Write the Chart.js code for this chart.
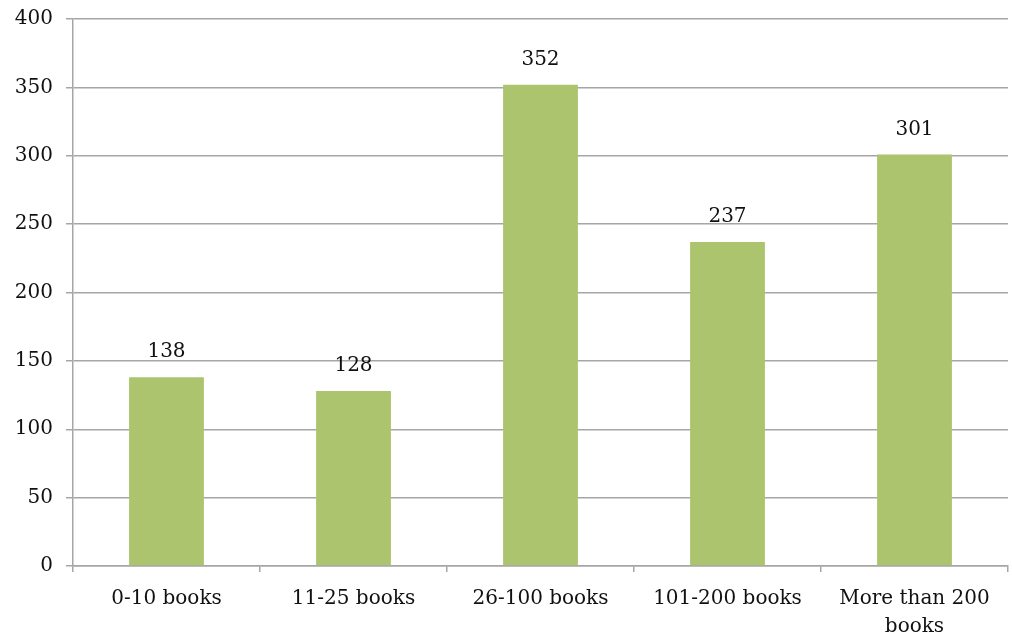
<!DOCTYPE html>
<html><head><meta charset="utf-8">
<script src="https://cdn.jsdelivr.net/npm/chart.js@4/dist/chart.umd.min.js"></script>
<style>html,body{margin:0;padding:0;background:#fff}#wrap{width:1012px;height:641px}</style>
</head><body><div id="wrap"><canvas id="c" width="1012" height="641"></canvas></div>
<script>
const categories = ["0-10 books", "11-25 books", "26-100 books", "101-200 books", ["More than 200", "books"]];
const values = [138, 128, 352, 237, 301];
const yTicks = [0, 50, 100, 150, 200, 250, 300, 350, 400];
const FONT = "'DejaVu Serif', serif";

const labelPlugin = {
  id: 'vlabels',
  afterDatasetsDraw(chart) {
    const ctx = chart.ctx;
    const meta = chart.getDatasetMeta(0);
    ctx.save();
    ctx.font = "20px " + FONT;
    ctx.fillStyle = "#111";
    ctx.textAlign = "center";
    ctx.textBaseline = "bottom";
    meta.data.forEach((bar, i) => {
      ctx.fillText(String(values[i]), bar.x, bar.y - 15);
    });
    ctx.restore();
  }
};

new Chart(document.getElementById('c'), {
  type: 'bar',
  data: { labels: categories, datasets: [{ data: values, backgroundColor: '#abc46d', borderWidth: 0, categoryPercentage: 1, barPercentage: 0.4 }] },
  options: {
    responsive: false, animation: false,
    layout: { padding: { top: 19, right: 4, left: 0, bottom: 0 } },
    plugins: { legend: { display: false }, tooltip: { enabled: false } },
    scales: {
      x: {
        grid: { offset: true, drawOnChartArea: false, color: '#a6a6a6', lineWidth: 1.5, tickLength: 6, tickColor: '#a6a6a6' },
        border: { color: '#a6a6a6', width: 1.5 },
        ticks: { color: '#111', font: { family: FONT, size: 20, lineHeight: 1.4 }, padding: 13, maxRotation: 0, autoSkip: false },
        afterFit(s) { s.height = 75; }
      },
      y: {
        min: 0, max: 400,
        afterBuildTicks(s) { s.ticks = yTicks.map(v => ({ value: v })); },
        grid: { color: '#a6a6a6', lineWidth: 1.5, tickLength: 7 },
        border: { color: '#a6a6a6', width: 1.5 },
        ticks: { color: '#111', font: { family: FONT, size: 20, lineHeight: 0.6 }, padding: 13 },
        afterFit(s) { s.width = 73; s.paddingTop = 0; s.paddingBottom = 0; }
      }
    }
  },
  plugins: [labelPlugin]
});
</script></body></html>
